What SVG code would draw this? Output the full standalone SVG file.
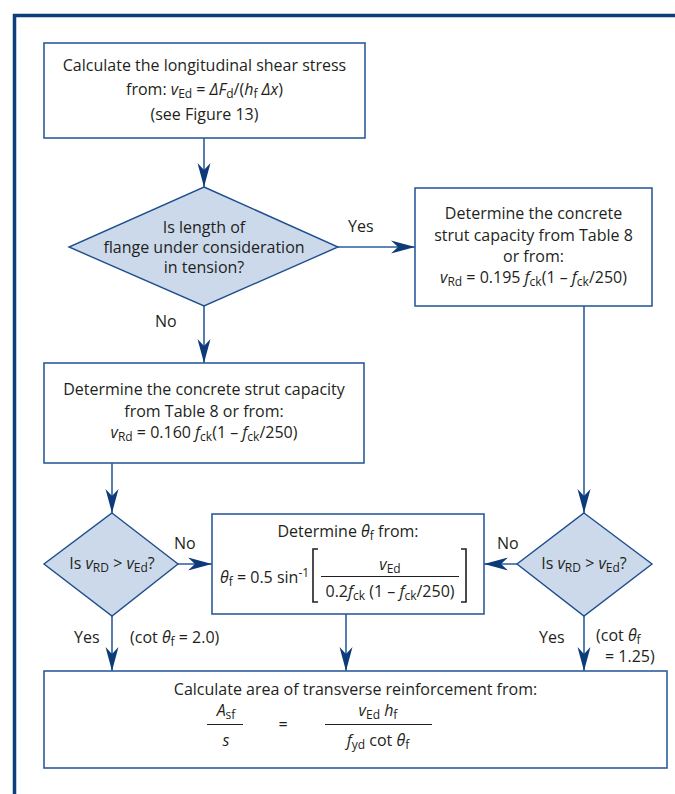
<svg xmlns="http://www.w3.org/2000/svg" width="675" height="794" viewBox="0 0 675 794">
  <style>
    text { font-family: "Open Sans", "Noto Sans", "Liberation Sans", sans-serif; font-size: 16px; fill: #231f20; }
    .mid { text-anchor: middle; }
    .i { font-style: italic; }
    .sub { font-size: 12px; }
    .box { fill: #ffffff; stroke: #2d5d9c; stroke-width: 1.6; }
    .dia { fill: #cbd9eb; stroke: #1f4f8e; stroke-width: 1.4; }
    .frame { stroke: #0f3d7a; stroke-width: 3.5; fill: none; }
    .con { stroke: #2d5d9c; stroke-width: 1.6; fill: none; marker-end: url(#arr); }
    .rule { stroke: #231f20; stroke-width: 1; fill: none; }
    .brk { stroke: #231f20; stroke-width: 1.6; fill: none; }
  </style>
  <defs>
    <marker id="arr" viewBox="-25 -7 26 14" markerWidth="26" markerHeight="14" refX="0" refY="0" orient="auto" markerUnits="userSpaceOnUse">
      <path d="M0,0 L-24,-6.5 L-17,0 L-24,6.5 Z" fill="#0d3a78"/>
    </marker>
  </defs>
  <rect width="675" height="794" fill="#ffffff"/>

  <!-- page frame -->
  <path class="frame" d="M14.5,794 V15.5 H675"/>

  <!-- connectors -->
  <g id="connectors">
    <path class="con" d="M204,138 V187"/>
    <path class="con" d="M338,247 H415"/>
    <path class="con" d="M204,306 V363"/>
    <path class="con" d="M584,306 V513"/>
    <path class="con" d="M112,463 V513"/>
    <path class="con" d="M178,564 H212"/>
    <path class="con" d="M517,564 H484"/>
    <path class="con" d="M112,616 V671"/>
    <path class="con" d="M346,614 V671"/>
    <path class="con" d="M584,616 V671"/>
  </g>

  <!-- connector labels -->
  <g id="labels">
    <text x="348" y="232">Yes</text>
    <text x="155" y="327">No</text>
    <text x="174" y="549">No</text>
    <text x="497" y="549">No</text>
    <text x="74" y="643">Yes</text>
    <text x="130" y="643">(cot <tspan class="i">θ</tspan><tspan class="sub" dy="3">f</tspan><tspan dy="-3"> = 2.0)</tspan></text>
    <text x="539" y="643">Yes</text>
    <text x="596" y="641">(cot <tspan class="i">θ</tspan><tspan class="sub" dy="3">f</tspan></text>
    <text x="605" y="662">= 1.25)</text>
  </g>

  <g id="shear-stress">
    <rect class="box" x="44" y="43" width="321" height="95"/>
    <text class="mid" x="204.5" y="71">Calculate the longitudinal shear stress</text>
    <text class="mid" x="204.5" y="95">from: <tspan class="i">v</tspan><tspan class="sub" dy="3">Ed</tspan><tspan dy="-3"> = </tspan><tspan class="i">ΔF</tspan><tspan class="sub" dy="3">d</tspan><tspan dy="-3">/(</tspan><tspan class="i">h</tspan><tspan class="sub" dy="3">f</tspan><tspan dy="-3"> </tspan><tspan class="i">Δx</tspan>)</text>
    <text class="mid" x="204.5" y="120">(see Figure 13)</text>
  </g>

  <g id="tension-check">
    <path class="dia" d="M204,187 L338,247 L204,306 L69,247 Z"/>
    <text class="mid" x="204" y="233">Is length of</text>
    <text class="mid" x="204" y="253">flange under consideration</text>
    <text class="mid" x="204" y="273">in tension?</text>
  </g>

  <g id="strut-tension">
    <rect class="box" x="415" y="188" width="237" height="118"/>
    <text class="mid" x="533.5" y="219">Determine the concrete</text>
    <text class="mid" x="533.5" y="241">strut capacity from Table 8</text>
    <text class="mid" x="533.5" y="262">or from:</text>
    <text class="mid" x="533.5" y="283"><tspan class="i">v</tspan><tspan class="sub" dy="3">Rd</tspan><tspan dy="-3"> = 0.195 </tspan><tspan class="i">f</tspan><tspan class="sub" dy="3">ck</tspan><tspan dy="-3">(1 – </tspan><tspan class="i">f</tspan><tspan class="sub" dy="3">ck</tspan><tspan dy="-3">/250)</tspan></text>
  </g>

  <g id="strut-compression">
    <rect class="box" x="44" y="363" width="320" height="100"/>
    <text class="mid" x="204" y="395">Determine the concrete strut capacity</text>
    <text class="mid" x="204" y="417">from Table 8 or from:</text>
    <text class="mid" x="204" y="438"><tspan class="i">v</tspan><tspan class="sub" dy="3">Rd</tspan><tspan dy="-3"> = 0.160 </tspan><tspan class="i">f</tspan><tspan class="sub" dy="3">ck</tspan><tspan dy="-3">(1 – </tspan><tspan class="i">f</tspan><tspan class="sub" dy="3">ck</tspan><tspan dy="-3">/250)</tspan></text>
  </g>

  <g id="check-left">
    <path class="dia" d="M112,513 L178,564 L112,616 L44,564 Z"/>
    <text class="mid" x="112" y="569">Is <tspan class="i">v</tspan><tspan class="sub" dy="3">RD</tspan><tspan dy="-3"> &gt; </tspan><tspan class="i">v</tspan><tspan class="sub" dy="3">Ed</tspan><tspan dy="-3">?</tspan></text>
  </g>

  <g id="check-right">
    <path class="dia" d="M584,513 L652,564 L584,616 L517,564 Z"/>
    <text class="mid" x="584" y="569">Is <tspan class="i">v</tspan><tspan class="sub" dy="3">RD</tspan><tspan dy="-3"> &gt; </tspan><tspan class="i">v</tspan><tspan class="sub" dy="3">Ed</tspan><tspan dy="-3">?</tspan></text>
  </g>

  <g id="strut-angle">
    <rect class="box" x="212" y="514" width="272" height="100"/>
    <text class="mid" x="348" y="537">Determine <tspan class="i">θ</tspan><tspan class="sub" dy="3">f</tspan><tspan dy="-3"> from:</tspan></text>
    <text x="220" y="583"><tspan class="i">θ</tspan><tspan class="sub" dy="3">f</tspan><tspan dy="-3"> = 0.5 sin</tspan><tspan class="sub" dy="-6">-1</tspan></text>
    <path class="brk" d="M318,549 H313 V602 H318"/>
    <path class="brk" d="M461,549 H466 V602 H461"/>
    <text class="mid" x="390" y="570"><tspan class="i">v</tspan><tspan class="sub" dy="3">Ed</tspan></text>
    <path class="rule" d="M321,576.5 H459"/>
    <text class="mid" x="390" y="597">0.2<tspan class="i">f</tspan><tspan class="sub" dy="3">ck</tspan><tspan dy="-3"> (1 – </tspan><tspan class="i">f</tspan><tspan class="sub" dy="3">ck</tspan><tspan dy="-3">/250)</tspan></text>
  </g>

  <g id="transverse-area">
    <rect class="box" x="44" y="671" width="623" height="97"/>
    <text class="mid" x="355.5" y="695">Calculate area of transverse reinforcement from:</text>
    <text class="mid" x="226" y="716"><tspan class="i">A</tspan><tspan class="sub" dy="3">sf</tspan></text>
    <path class="rule" d="M207,724.5 H243"/>
    <text class="mid i" x="226" y="746">s</text>
    <text class="mid" x="283" y="730">=</text>
    <text class="mid" x="378" y="716"><tspan class="i">v</tspan><tspan class="sub" dy="3">Ed</tspan><tspan dy="-3"> </tspan><tspan class="i">h</tspan><tspan class="sub" dy="3">f</tspan></text>
    <path class="rule" d="M325,724.5 H432"/>
    <text class="mid" x="378" y="746"><tspan class="i">f</tspan><tspan class="sub" dy="3">yd</tspan><tspan dy="-3"> cot </tspan><tspan class="i">θ</tspan><tspan class="sub" dy="3">f</tspan></text>
  </g>
</svg>
